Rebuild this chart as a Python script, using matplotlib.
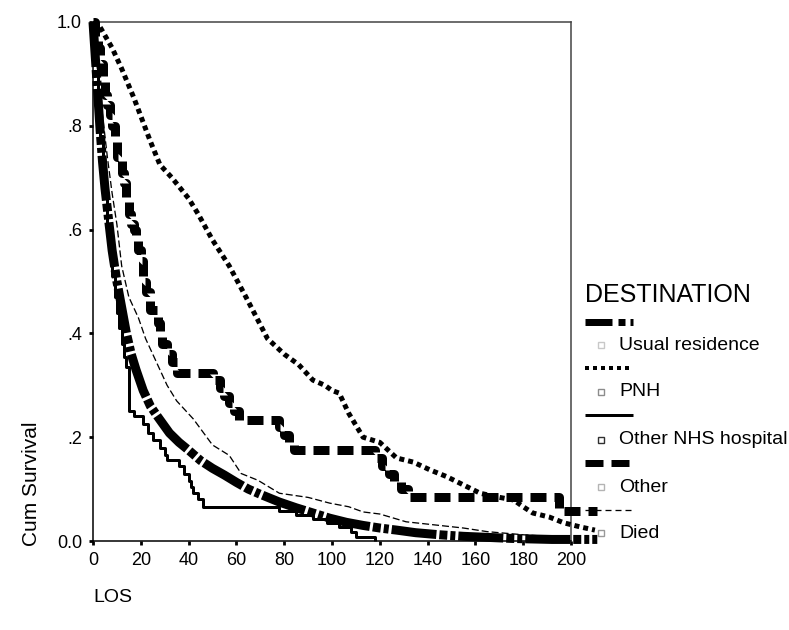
import numpy as np
import matplotlib
matplotlib.use("Agg")
from matplotlib import pyplot as plt

plt.rcParams['font.family'] = ['Liberation Sans', 'DejaVu Sans']
plt.rcParams['lines.scale_dashes'] = False

# Kaplan-Meier curves (LOS in days, cumulative survival)
usual_t = [0, 1, 2, 3, 4, 5, 6, 7, 8, 10, 12, 14, 16, 18, 21, 24, 27, 32, 36, 40, 45,
           50, 55, 60, 65, 70, 78, 85, 92, 99, 106, 113, 120, 127, 135, 145, 155, 165,
           175, 183, 192, 200, 211]
usual_s = [1.0, 0.93, 0.86, 0.79, 0.73, 0.68, 0.64, 0.60, 0.56, 0.50, 0.45, 0.40, 0.36,
           0.33, 0.29, 0.26, 0.24, 0.208, 0.19, 0.175, 0.155, 0.14, 0.127, 0.113, 0.10,
           0.09, 0.075, 0.064, 0.054, 0.044, 0.036, 0.030, 0.025, 0.021, 0.016, 0.012,
           0.009, 0.007, 0.005, 0.004, 0.003, 0.003, 0.003]

pnh_t = [0, 3, 8, 12, 17, 24, 28, 33, 40, 44, 50, 57, 64, 73, 80, 86, 92, 97, 100, 103,
         107, 113, 120, 127, 134, 141, 148, 155, 162, 169, 176, 180, 184, 191, 197, 204, 210]
pnh_s = [1.0, 0.99, 0.95, 0.91, 0.855, 0.77, 0.725, 0.70, 0.66, 0.63, 0.58, 0.53, 0.47,
         0.39, 0.36, 0.34, 0.31, 0.30, 0.29, 0.285, 0.246, 0.20, 0.19, 0.16, 0.152, 0.137,
         0.124, 0.108, 0.092, 0.085, 0.079, 0.066, 0.054, 0.046, 0.035, 0.027, 0.021]

nhs_t = [0, 1, 2, 3, 4, 5, 6, 7, 8, 9, 10, 11, 12, 13, 14, 15, 17, 21, 23, 25, 28, 30,
         31, 36, 38, 40, 41, 42, 44, 46, 78, 85, 92, 98, 103, 108, 110, 118]
nhs_s = [1.0, 0.92, 0.85, 0.78, 0.72, 0.66, 0.61, 0.56, 0.51, 0.47, 0.44, 0.41, 0.38,
         0.355, 0.335, 0.25, 0.24, 0.225, 0.208, 0.195, 0.18, 0.165, 0.156, 0.145, 0.13,
         0.115, 0.105, 0.092, 0.08, 0.066, 0.058, 0.05, 0.042, 0.035, 0.027, 0.018, 0.008, 0.0]

other_t = [0, 1, 2, 3, 4, 5, 6, 7, 8, 9, 10, 12, 13, 14, 15, 16, 17, 18, 19, 20, 21, 22,
           24, 27, 28, 29, 31, 33, 35, 50, 53, 55, 57, 59, 61, 78, 80, 82, 84, 118, 121,
           124, 126, 129, 132, 195, 211]
other_s = [1.0, 0.97, 0.95, 0.92, 0.89, 0.86, 0.84, 0.82, 0.80, 0.77, 0.74, 0.71, 0.69,
           0.66, 0.63, 0.61, 0.60, 0.58, 0.56, 0.54, 0.50, 0.48, 0.445, 0.42, 0.40, 0.38,
           0.36, 0.345, 0.323, 0.31, 0.295, 0.28, 0.265, 0.25, 0.233, 0.22, 0.205, 0.19,
           0.175, 0.16, 0.145, 0.13, 0.115, 0.10, 0.085, 0.058, 0.058]

died_t = [0, 1, 2, 3, 4, 6, 8, 10, 12, 15, 19, 22, 26, 31, 35, 39, 42, 46, 50, 57, 62,
          69, 78, 90, 99, 107, 113, 120, 131, 145, 155, 165, 180, 200]
died_s = [1.0, 0.95, 0.90, 0.86, 0.82, 0.74, 0.67, 0.61, 0.53, 0.47, 0.43, 0.39, 0.35,
          0.30, 0.27, 0.25, 0.235, 0.21, 0.185, 0.165, 0.13, 0.117, 0.092, 0.084, 0.073,
          0.066, 0.056, 0.052, 0.037, 0.03, 0.025, 0.018, 0.012, 0.006]

labels = ["Usual residence", "PNH", "Other NHS hospital", "Other", "Died"]
censor_colors = ["#c8c8c8", "#8c8c8c", "#303030", "#b4b4b4", "#999999"]

px = 0.72  # pixel -> point at 100 dpi
styles = [
    dict(lw=9 * px, dashes=(45 * px, 3 * px, 8 * px, 3 * px, 5 * px, 3 * px)),
    dict(lw=5 * px, dashes=(5 * px, 4 * px)),
    dict(lw=3 * px, linestyle='-'),
    dict(lw=9 * px, dashes=(16 * px, 8 * px)),
    dict(lw=1.3 * px, dashes=(7 * px, 3 * px)),
]
legend_styles = [
    dict(lw=7 * px, dashes=(27 * px, 6 * px, 7 * px, 5 * px, 3 * px, 5 * px)),
    dict(lw=4 * px, dashes=(4 * px, 4 * px)),
    dict(lw=3 * px, linestyle='-'),
    dict(lw=7 * px, dashes=(18 * px, 8 * px)),
    dict(lw=1.3 * px, dashes=(6 * px, 4 * px)),
]

fig = plt.figure(figsize=(7.89, 6.30), dpi=100)
ax = fig.add_axes([93 / 789, 1 - 541 / 630, (571 - 93) / 789, (541 - 22) / 630])

curves = [(usual_t, usual_s, 'default'), (pnh_t, pnh_s, 'default'),
          (nhs_t, nhs_s, 'steps-post'), (other_t, other_s, 'steps-post'),
          (died_t, died_s, 'default')]
for i, (t, s, ds) in enumerate(curves):
    ax.plot(t, s, color='black', drawstyle=ds, solid_capstyle='butt',
            dash_capstyle='butt', clip_on=False, zorder=3, **styles[i])

ax.set_xlim(0, 200)
ax.set_ylim(0, 1)
ax.set_xticks(np.arange(0, 201, 20))
ax.set_yticks([0, 0.2, 0.4, 0.6, 0.8, 1.0])
ax.set_yticklabels(["0.0", ".2", ".4", ".6", ".8", "1.0"])
ax.tick_params(direction='out', length=3, width=2, labelsize=13, pad=5, color='black')
for sp in ax.spines.values():
    sp.set_linewidth(1.1)
ax.spines['right'].set_color('#444444')
ax.spines['top'].set_color('#444444')

fig.text(32 / 789, 1 - 546 / 630, "Cum Survival", rotation=90, ha='center', va='bottom',
         fontsize=15)
fig.text(93 / 789, 1 - 598 / 630, "LOS", ha='left', va='center', fontsize=14)

# legend drawn in pixel coordinates
lg = fig.add_axes([0, 0, 1, 1], zorder=-1)
lg.set_xlim(0, 789)
lg.set_ylim(630, 0)
lg.axis('off')
lg.text(585, 295, "DESTINATION", ha='left', va='center', fontsize=18)
line_y = [322, 368, 415, 463, 510]
text_y = [345, 392, 440, 487, 533]
for i, lab in enumerate(labels):
    lg.plot([585, 633], [line_y[i], line_y[i]], color='black', solid_capstyle='butt',
            dash_capstyle='butt', **legend_styles[i])
    lg.plot([601], [text_y[i]], marker='s', ms=4, mfc='white', mec=censor_colors[i], mew=1)
    lg.text(619, text_y[i], lab, ha='left', va='center', fontsize=14)

fig.savefig("out.png", dpi=100)
